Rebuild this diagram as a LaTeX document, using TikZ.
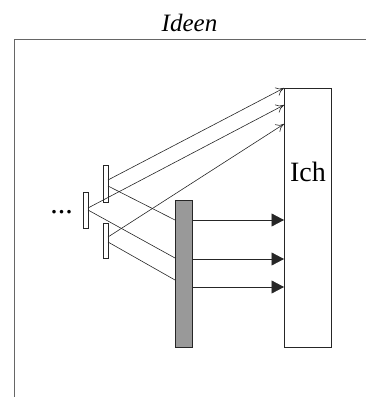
\documentclass[tikz,border=0pt]{standalone}
\usepackage{fontspec}
\setmainfont{Liberation Serif}
\usetikzlibrary{arrows.meta}
\begin{document}
\begin{tikzpicture}[x=1pt,y=-1pt,
  plate/.style={draw=black!85,line width=0.7pt,fill=white,minimum width=5pt,inner sep=0pt},
  bar/.style={draw=black!85,line width=0.8pt,fill=black!40,minimum width=17pt,minimum height=147pt,inner sep=0pt},
  ichbox/.style={draw=black!85,line width=0.8pt,minimum width=47pt,minimum height=259pt,inner sep=0pt},
  ray/.style={draw=black!85,line width=0.6pt},
  openarr/.style={ray,-{To[length=8pt,width=9pt]}},
  fillarr/.style={ray,-{Triangle[length=12.5pt,width=13pt]}},
  frame/.style={draw=black!60,line width=1.4pt}
]
\useasboundingbox (0,0) rectangle (366,397);
% frame
\coordinate (ftr) at (366,39.5);
\coordinate (ftl) at (14.5,39.5);
\coordinate (fbl) at (14.5,397);
\draw[frame] (ftr) -- (ftl) -- (fbl);
\node[font=\fontsize{25}{28}\selectfont\itshape,anchor=base] (title) at (189.5,31) {Ideen};
% Ich box
\node[ichbox] (ich) at (307.5,217.5) {};
\node[font=\fontsize{28}{30}\selectfont,anchor=base] (ichlbl) at (308,181) {Ich};
% plates
\node[plate,minimum height=36pt] (pL) at (85.5,210) {};
\node[plate,minimum height=37pt] (pU) at (105.5,183.5) {};
\node[plate,minimum height=35pt] (pD) at (105.5,240.5) {};
% grey bar
\node[bar] (gb) at (183.5,273.5) {};
% dots
\node[font=\fontsize{30}{32}\selectfont,anchor=base] (dots) at (61.5,213) {...};
% anchor points
\coordinate (u1) at (108,180);
\coordinate (u2) at (108,186);
\coordinate (l1) at (88,208);
\coordinate (l2) at (88,210);
\coordinate (d1) at (108,237);
\coordinate (d2) at (108,242);
\coordinate (i1) at (284,88);
\coordinate (i2) at (284,105);
\coordinate (i3) at (284,124);
\coordinate (g1) at (175,220);
\coordinate (g2) at (175,258);
\coordinate (g3) at (175,280);
\coordinate (o1) at (192,220);
\coordinate (o2) at (192,259);
\coordinate (o3) at (192,287);
\coordinate (t1) at (284,220);
\coordinate (t2) at (284,259);
\coordinate (t3) at (284,287);
% rays to Ich
\draw[openarr] (u1) -- (i1);
\draw[openarr] (l1) -- (i2);
\draw[openarr] (d1) -- (i3);
% rays to grey bar
\draw[ray] (u2) -- (g1);
\draw[ray] (l2) -- (g2);
\draw[ray] (d2) -- (g3);
% redraw bar on top
\node[bar] at (gb) {};
% grey bar to Ich
\draw[fillarr] (o1) -- (t1);
\draw[fillarr] (o2) -- (t2);
\draw[fillarr] (o3) -- (t3);
\end{tikzpicture}
\end{document}
